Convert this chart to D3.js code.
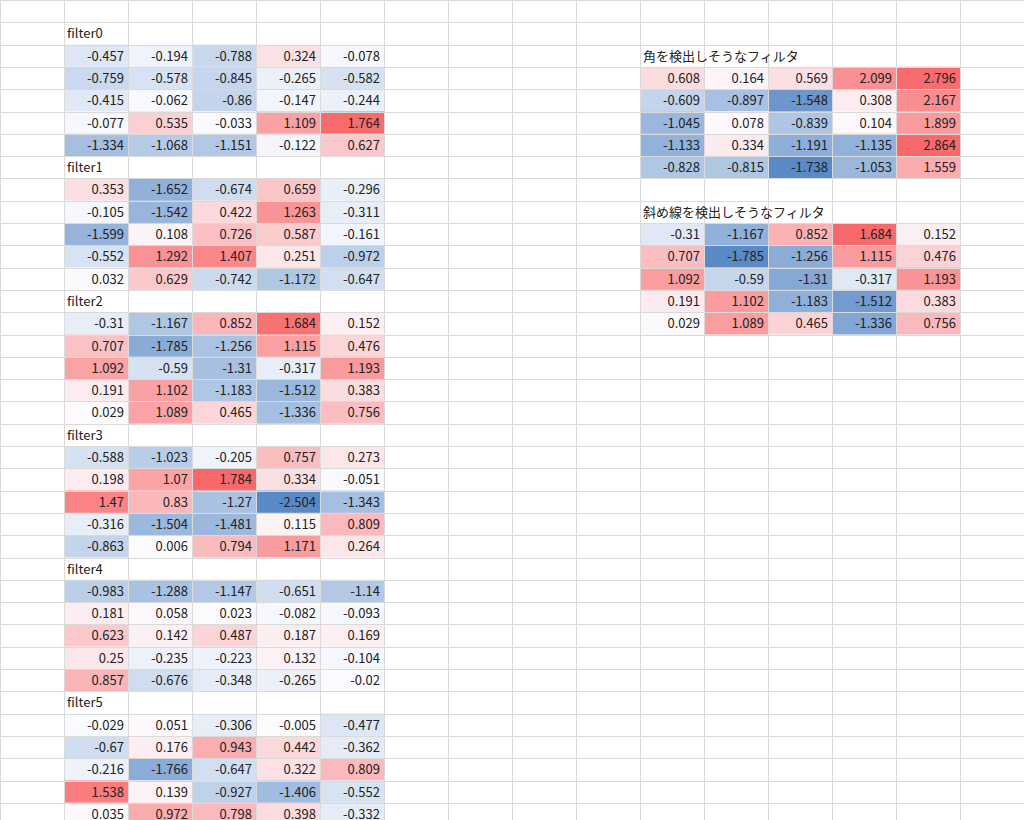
<!DOCTYPE html>
<html><head><meta charset="utf-8">
<script src="https://cdn.jsdelivr.net/npm/d3@7"></script>
<style>body{margin:0;background:#fff}text{font-family:"Noto Sans CJK JP","Noto Sans",sans-serif;font-size:13px;fill:#222}</style>
</head><body>
<script>
// cell values per filter block
var filterNames = ["filter0","filter1","filter2","filter3","filter4","filter5"];
var filter0 = [[-0.457,-0.194,-0.788,0.324,-0.078],[-0.759,-0.578,-0.845,-0.265,-0.582],[-0.415,-0.062,-0.86,-0.147,-0.244],[-0.077,0.535,-0.033,1.109,1.764],[-1.334,-1.068,-1.151,-0.122,0.627]];
var filter1 = [[0.353,-1.652,-0.674,0.659,-0.296],[-0.105,-1.542,0.422,1.263,-0.311],[-1.599,0.108,0.726,0.587,-0.161],[-0.552,1.292,1.407,0.251,-0.972],[0.032,0.629,-0.742,-1.172,-0.647]];
var filter2 = [[-0.31,-1.167,0.852,1.684,0.152],[0.707,-1.785,-1.256,1.115,0.476],[1.092,-0.59,-1.31,-0.317,1.193],[0.191,1.102,-1.183,-1.512,0.383],[0.029,1.089,0.465,-1.336,0.756]];
var filter3 = [[-0.588,-1.023,-0.205,0.757,0.273],[0.198,1.07,1.784,0.334,-0.051],[1.47,0.83,-1.27,-2.504,-1.343],[-0.316,-1.504,-1.481,0.115,0.809],[-0.863,0.006,0.794,1.171,0.264]];
var filter4 = [[-0.983,-1.288,-1.147,-0.651,-1.14],[0.181,0.058,0.023,-0.082,-0.093],[0.623,0.142,0.487,0.187,0.169],[0.25,-0.235,-0.223,0.132,-0.104],[0.857,-0.676,-0.348,-0.265,-0.02]];
var filter5 = [[-0.029,0.051,-0.306,-0.005,-0.477],[-0.67,0.176,0.943,0.442,-0.362],[-0.216,-1.766,-0.647,0.322,0.809],[1.538,0.139,-0.927,-1.406,-0.552],[0.035,0.972,0.798,0.398,-0.332]];
var cornerTitle = "角を検出しそうなフィルタ";
var corner = [[0.608,0.164,0.569,2.099,2.796],[-0.609,-0.897,-1.548,0.308,2.167],[-1.045,0.078,-0.839,0.104,1.899],[-1.133,0.334,-1.191,-1.135,2.864],[-0.828,-0.815,-1.738,-1.053,1.559]];
var diagTitle = "斜め線を検出しそうなフィルタ";
var diagonal = [[-0.31,-1.167,0.852,1.684,0.152],[0.707,-1.785,-1.256,1.115,0.476],[1.092,-0.59,-1.31,-0.317,1.193],[0.191,1.102,-1.183,-1.512,0.383],[0.029,1.089,0.465,-1.336,0.756]];

var W = 1024, H = 820, cw = 64, rh = 22.3;
var svg = d3.select("body").append("svg").attr("width", W).attr("height", H);
var col = d3.scaleLinear().domain([0, 1]).range([0, cw]);
var row = d3.scaleLinear().domain([0, 1]).range([0, rh]);

function colorFor(mats) {
	var all = d3.merge(mats.map(function(m) { return d3.merge(m); }));
	return d3.scaleLinear().domain([d3.min(all), 0, d3.max(all)])
		.range(["#5a8ac6", "#fcfcff", "#f8696b"]);
}

var cells = svg.append("g"), grid = svg.append("g"), labels = svg.append("g");

function block(title, mat, c0, r0, color) {
	labels.append("text").attr("x", col(c0) + 3).attr("y", row(r0) + 16).text(title);
	mat.forEach(function(vals, i) {
		vals.forEach(function(v, j) {
			cells.append("rect").attr("x", col(c0 + j)).attr("y", row(r0 + 1 + i))
				.attr("width", cw).attr("height", rh).attr("fill", color(v));
			labels.append("text").attr("x", col(c0 + j + 1) - 4).attr("y", row(r0 + 1 + i) + 16)
				.attr("text-anchor", "end").text(v);
		});
	});
}

var leftMats = [filter0, filter1, filter2, filter3, filter4, filter5];
var leftColor = colorFor(leftMats);
leftMats.forEach(function(m, k) { block(filterNames[k], m, 1, 1 + k * 6, leftColor); });
block(cornerTitle, corner, 10, 2, colorFor([corner]));
block(diagTitle, diagonal, 10, 9, colorFor([diagonal]));

//Spreadsheet grid lines
d3.range(0, 17).forEach(function(c) {
	grid.append("line").attr("x1", col(c) + 0.5).attr("x2", col(c) + 0.5).attr("y1", 0).attr("y2", H)
		.attr("stroke", "#dadada");
});
d3.range(0, 38).forEach(function(r) {
	grid.append("line").attr("y1", Math.round(row(r)) + 0.5).attr("y2", Math.round(row(r)) + 0.5)
		.attr("x1", 0).attr("x2", W).attr("stroke", "#dadada");
});
</script>
</body></html>
